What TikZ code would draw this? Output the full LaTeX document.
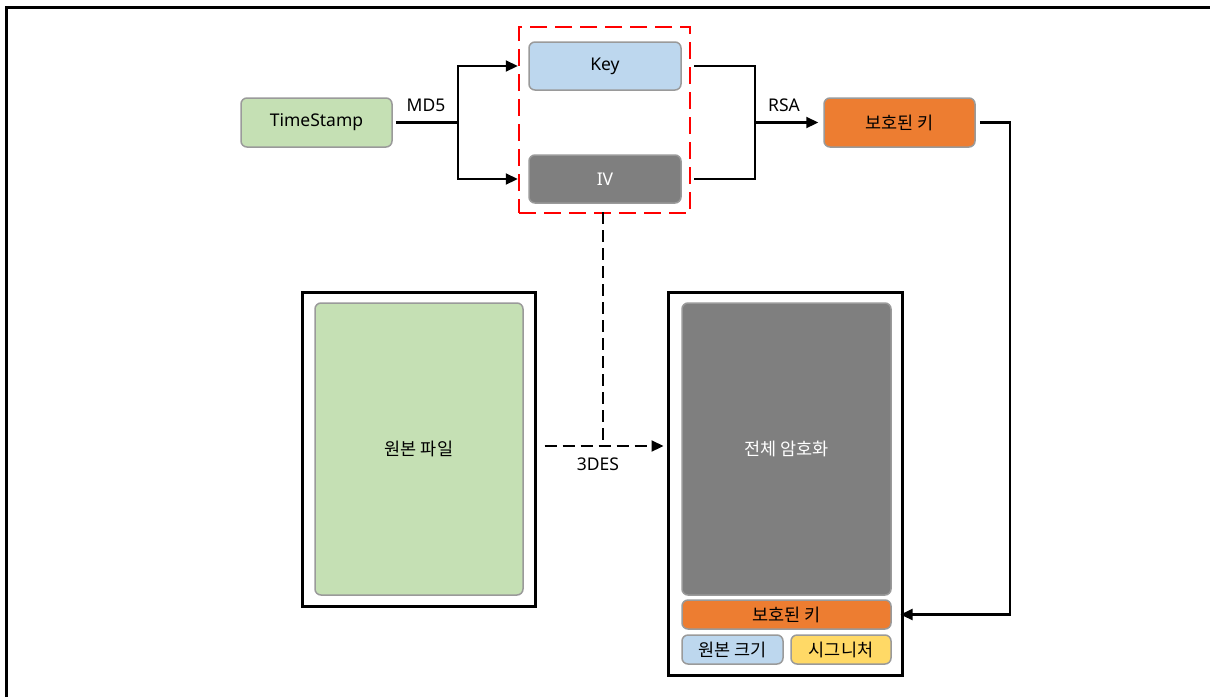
\documentclass[tikz,border=0pt]{standalone}
\usepackage{fontspec}
\setmainfont{Noto Sans}
\newfontfamily\kr{Noto Sans CJK KR}
\usetikzlibrary{arrows.meta,calc}
\definecolor{cgreen}{HTML}{C5E0B4}
\definecolor{cblue}{HTML}{BDD7EE}
\definecolor{cgray}{HTML}{7F7F7F}
\definecolor{corange}{HTML}{ED7D31}
\definecolor{cyellow}{HTML}{FFD966}
\definecolor{cborder}{HTML}{9A9A9A}
\tikzset{
  x=1pt, y=-1pt,
  box/.style={draw=cborder, line width=1.5pt, rounded corners=6pt, inner sep=0pt,
    font=\fontsize{17.5}{20}\selectfont},
  frame/.style={draw=black, line width=3pt, inner sep=0pt},
  conn/.style={draw=black, line width=2.2pt},
  arr/.style={conn, -{Triangle[length=12pt,width=11pt]}},
  dsh/.style={conn, dash pattern=on 12pt off 6pt},
  lbl/.style={font=\fontsize{17.5}{20}\selectfont, inner sep=0pt},
}
\begin{document}
\begin{tikzpicture}
\useasboundingbox (0,0) rectangle (1210,697);
\draw[line width=2.5pt] (6.5,697) -- (6.5,7.5) -- (1210,7.5);

% top row
\node[box, fill=cgreen, minimum width=151pt, minimum height=49pt] (ts) at (316.5,122.5) {TimeStamp};
\node[box, fill=cblue, minimum width=152pt, minimum height=48pt] (key) at (605,66) {Key};
\node[box, fill=cgray, text=white, minimum width=152pt, minimum height=48pt] (iv) at (605,179) {IV};
\node[draw=red, line width=2.5pt, dash pattern=on 17pt off 8pt, minimum width=171pt, minimum height=186pt, inner sep=0pt] (grp) at (604.5,120) {};
\node[box, fill=corange, minimum width=151pt, minimum height=49pt] (pk) at (899.5,122.5) {\kr 보호된 키};

% bottom left
\node[frame, minimum width=233pt, minimum height=314pt] (orig) at (418.5,449) {};
\node[box, fill=cgreen, minimum width=208pt, minimum height=292pt] (origin) at (419,449) {\kr 원본 파일};

% bottom right
\node[frame, minimum width=234pt, minimum height=383pt] (enc) at (785,483.5) {};
\node[box, fill=cgray, text=white, minimum width=209pt, minimum height=292pt] (all) at (786.5,449) {\kr 전체 암호화};
\node[box, fill=corange, minimum width=209pt, minimum height=29pt] (pk2) at (786.5,614.5) {\kr 보호된 키};
\node[box, fill=cblue, minimum width=101pt, minimum height=29pt] (size) at (732.5,649.5) {\kr 원본 크기};
\node[box, fill=cyellow, minimum width=100pt, minimum height=29pt] (sig) at (841,649.5) {\kr 시그니처};

% connectors
\coordinate (split) at (458,122.5);
\coordinate (join) at (755,122.5);
\coordinate (corner) at (1010,122.5);
\coordinate (m) at (603,446);

\draw[conn] ([xshift=3pt]ts.east) -- (split);
\draw[arr] (split) |- (grp.west |- key);
\draw[arr] (split) |- (grp.west |- iv);
\node[lbl] (md5) at (426,105) {MD5};

\draw[conn] ([xshift=3pt]grp.east |- key) -| (join) |- ([xshift=3pt]grp.east |- iv);
\draw[arr, shorten >=5pt] (join) -- (pk.west);
\node[lbl] (rsa) at (784,105) {RSA};

\draw[arr, shorten >=-3pt] ([xshift=4pt]pk.east) -| (corner) |- (enc.east |- pk2);

\draw[dsh] ([yshift=2pt]grp.south -| m) -- (m);
\draw[dsh, -{Triangle[length=12pt,width=11pt]}] ([xshift=8pt]orig.east |- m) -- ([xshift=-3pt]enc.west |- m);
\node[lbl] (des) at (598,464) {3DES};
\end{tikzpicture}
\end{document}
